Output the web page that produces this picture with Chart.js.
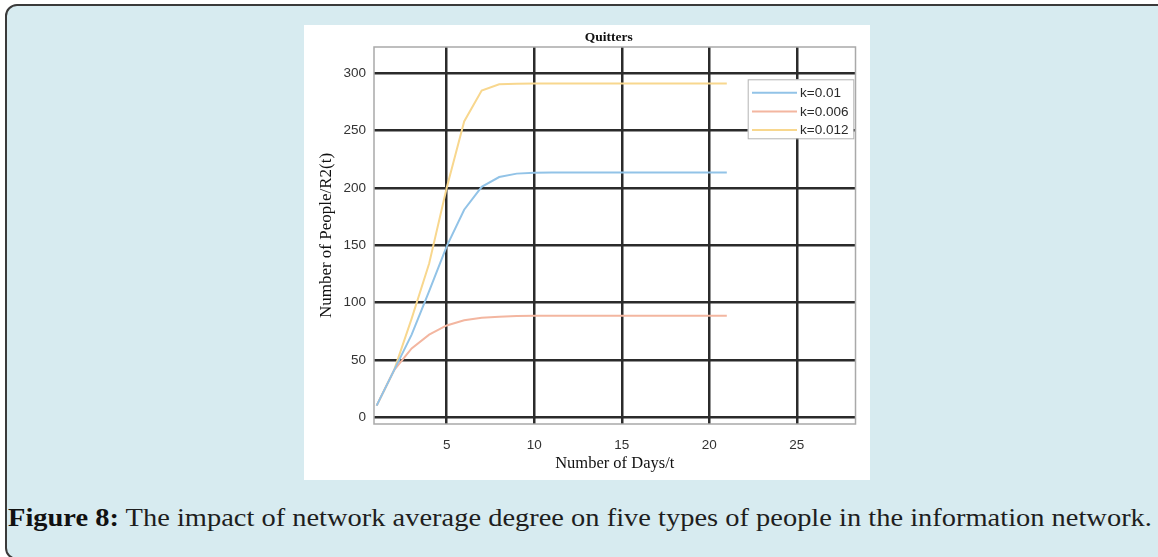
<!DOCTYPE html>
<html>
<head>
<meta charset="utf-8">
<title>Quitters</title>
<script src="https://cdn.jsdelivr.net/npm/chart.js@4"></script>
<style>
  html, body { margin: 0; padding: 0; width: 1158px; height: 557px; overflow: hidden; background: #ffffff; }
  #panel {
    position: absolute; left: 5px; top: 4px; width: 1190px; height: 556px;
    background: #d7ebf0; border: 2px solid #3a3a3a; border-radius: 12px; box-sizing: border-box;
  }
  #figure { position: absolute; left: 304px; top: 25px; width: 566px; height: 455px; background: #ffffff; }
  #figure canvas { display: block; }
  #caption {
    position: absolute; left: 8px; top: 503px; white-space: nowrap;
    font-family: "Liberation Serif", serif; font-size: 24.5px; line-height: 30px; color: #1e1e1e;
    transform-origin: 0 0;
  }
  #caption b { color: #111; }
</style>
</head>
<body>
<div id="panel"></div>
<div id="figure"><canvas id="chart" width="566" height="455"></canvas></div>
<div id="caption"><b>Figure 8:</b> The impact of network average degree on five types of people in the information network.</div>

<script>
// Days simulated
const days = [1, 2, 3, 4, 5, 6, 7, 8, 9, 10, 11, 12, 13, 14, 15, 16, 17, 18, 19, 20, 21];

// Quitters R2(t) for each value of k
const quittersK001  = [10, 41, 72, 110, 149, 181, 201, 209.5, 212.5, 213.3, 213.5, 213.5, 213.5, 213.5, 213.5, 213.5, 213.5, 213.5, 213.5, 213.5, 213.5];
const quittersK0006 = [10, 41, 60, 72, 80, 84.5, 86.7, 87.7, 88.2, 88.4, 88.5, 88.5, 88.5, 88.5, 88.5, 88.5, 88.5, 88.5, 88.5, 88.5, 88.5];
const quittersK0012 = [10, 41, 86, 134, 200, 258, 285, 290.5, 291, 291.2, 291.2, 291.2, 291.2, 291.2, 291.2, 291.2, 291.2, 291.2, 291.2, 291.2, 291.2];

const seriesLabels = ['k=0.01', 'k=0.006', 'k=0.012'];
const seriesColors = ['#92c3e7', '#f3b6a0', '#f8d78e'];
const chartTitle = 'Quitters';

// Axis tick values
const xTicks = [5, 10, 15, 20, 25];
const yTicks = [0, 50, 100, 150, 200, 250, 300];

const toPoints = vals => vals.map((v, i) => ({ x: days[i], y: v }));

// Plot frame, the title above it and the legend drawn inside the plot area
const frameAndKey = {
  id: 'frameAndKey',
  afterDraw(chart) {
    const { ctx, chartArea: a } = chart;
    ctx.save();
    ctx.strokeStyle = '#a9a9a9';
    ctx.lineWidth = 1.5;
    ctx.strokeRect(a.left, a.top, a.right - a.left, a.bottom - a.top);

    ctx.fillStyle = '#111111';
    ctx.font = 'bold 13.5px "Liberation Serif", serif';
    ctx.textAlign = 'center';
    ctx.textBaseline = 'middle';
    ctx.fillText(chartTitle, (a.left + a.right) / 2 - 6, 12.5);

    const w = 105.6, h = 59;
    const x = a.right - 2.2 - w, y = a.top + 32.3;
    ctx.fillStyle = '#ffffff';
    ctx.fillRect(x, y, w, h);
    ctx.strokeStyle = '#b4b4b4';
    ctx.lineWidth = 1;
    ctx.strokeRect(x + 0.5, y + 0.5, w, h);

    ctx.font = '13.5px "Liberation Sans", Arial, sans-serif';
    ctx.textAlign = 'left';
    chart.data.datasets.forEach((ds, i) => {
      const cy = y + 13.4 + i * 18.7;
      ctx.strokeStyle = ds.borderColor;
      ctx.lineWidth = ds.borderWidth;
      ctx.beginPath();
      ctx.moveTo(x + 4.3, cy);
      ctx.lineTo(x + 49.3, cy);
      ctx.stroke();
      ctx.fillStyle = '#2a2a2a';
      ctx.fillText(ds.label, x + 52.3, cy + 0.5);
    });
    ctx.restore();
  }
};

Chart.defaults.font.family = '"Liberation Sans", Arial, sans-serif';
Chart.defaults.color = '#333333';

new Chart(document.getElementById('chart'), {
  type: 'line',
  data: {
    datasets: [quittersK001, quittersK0006, quittersK0012].map((vals, i) => ({
      label: seriesLabels[i],
      data: toPoints(vals),
      borderColor: seriesColors[i],
      backgroundColor: seriesColors[i],
      borderWidth: 2,
      pointRadius: 0,
      tension: 0,
      fill: false
    }))
  },
  options: {
    responsive: false,
    animation: false,
    events: [],
    layout: { padding: { left: 0, right: 14.5, top: 22, bottom: 0 } },
    plugins: {
      legend: { display: false },
      tooltip: { enabled: false },
      title: { display: false }
    },
    scales: {
      x: {
        type: 'linear',
        min: 0.85,
        max: 28.35,
        afterBuildTicks: s => { s.ticks = xTicks.map(v => ({ value: v })); },
        afterFit: s => { s.height = 56; },
        grid: { color: '#2b2b2b', lineWidth: 2.5, drawTicks: false },
        border: { display: false },
        ticks: { padding: 13, font: { size: 13.5 }, color: '#333333', maxRotation: 0 },
        title: {
          display: true,
          text: 'Number of Days/t',
          color: '#111111',
          font: { family: '"Liberation Serif", serif', size: 16.5, lineHeight: 1.2 },
          padding: { top: 0, bottom: 6 }
        }
      },
      y: {
        type: 'linear',
        min: -6,
        max: 323,
        afterBuildTicks: s => { s.ticks = yTicks.map(v => ({ value: v })); },
        afterFit: s => { s.width = 70; },
        grid: { color: '#2b2b2b', lineWidth: 2.5, drawTicks: false },
        border: { display: false },
        ticks: { padding: 8, font: { size: 13.5 }, color: '#333333' },
        title: {
          display: true,
          text: 'Number of People/R2(t)',
          color: '#111111',
          font: { family: '"Liberation Serif", serif', size: 17, lineHeight: 1.2 },
          padding: { top: 12.5, bottom: 0 }
        }
      }
    }
  },
  plugins: [frameAndKey]
});

// Stretch the caption line across the panel width
(function fitCaption() {
  const el = document.getElementById('caption');
  const w = el.getBoundingClientRect().width;
  if (w > 0) el.style.transform = 'scaleX(' + (1144 / w).toFixed(4) + ')';
})();
</script>
</body>
</html>
